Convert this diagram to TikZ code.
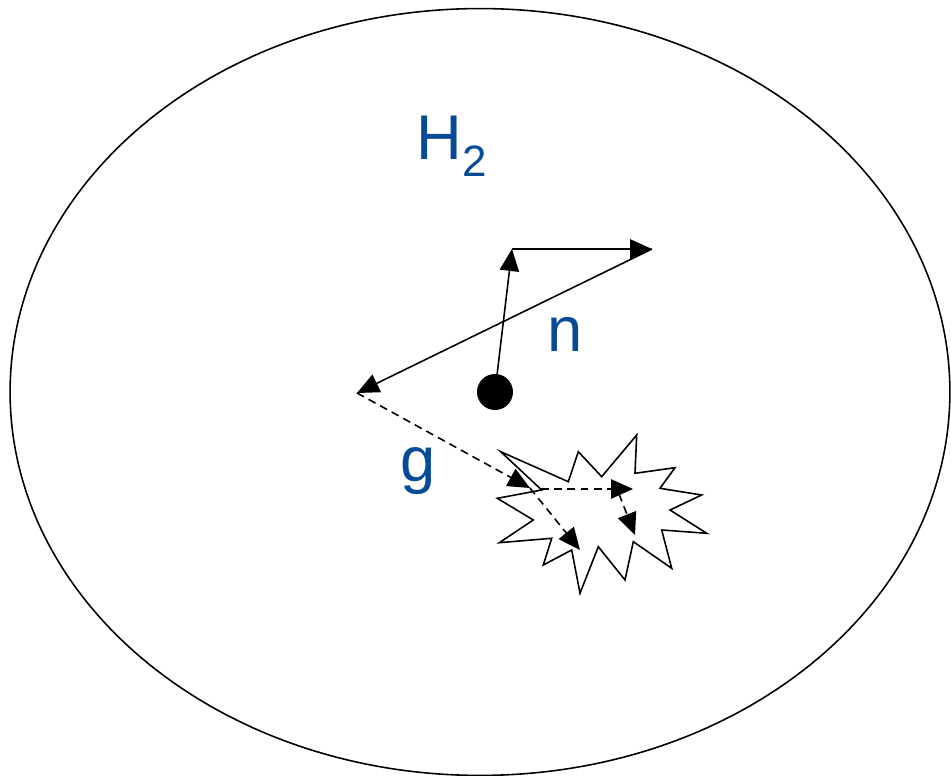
\documentclass[tikz,border=0pt]{standalone}
\usepackage{fontspec}
\setmainfont{Liberation Sans}
\usepackage{tikz}
\usetikzlibrary{arrows.meta}
\definecolor{lblBlue}{HTML}{074B96}
\tikzset{
  vec/.style={draw=black, line width=0.9pt, -{Triangle[length=12.5pt, width=11pt]}},
  hop/.style={vec, dash pattern=on 4.5pt off 3pt},
  lbl/.style={font=\fontsize{36}{40}\selectfont, text=lblBlue, anchor=base west, inner sep=0pt},
  atom/.style={circle, fill=black, inner sep=0pt, minimum size=0.72cm},
}
\def\rx{9.4cm}
\def\ry{7.67cm}

\begin{document}
\begin{tikzpicture}[x=0.02cm, y=-0.02cm]
\useasboundingbox (0,0) rectangle (951,776);

% ── gas volume ───────────────────────────────────────────────────────────────
\draw[line width=0.9pt] (480,392) ellipse [x radius=\rx, y radius=\ry];
\node[lbl] (h2) at (416.5,160) {H\raisebox{-9.5pt}{\fontsize{25}{25}\selectfont 2}};

% ── collision site ───────────────────────────────────────────────────────────
\draw[line width=0.9pt, line join=miter] (500.7,451.7) -- (568.3,481.7) -- (578.3,451.7)
  -- (601.7,476.7) -- (636.7,435) -- (635,473.3) -- (675,467.7) -- (660,488.3)
  -- (701.7,495) -- (670,510) -- (706.7,533.3) -- (661.7,530) -- (671.7,568.3)
  -- (633.3,541.7) -- (625,580) -- (598.3,546.7) -- (580,593.3) -- (571.7,550)
  -- (543.3,565) -- (551.7,538.3) -- (499.3,542.7) -- (533.3,520) -- (497.3,498.3)
  -- (541.7,490) -- cycle;

% ── neutron path ─────────────────────────────────────────────────────────────
\node[atom] (src) at (495,392) {};
\coordinate (k1) at (512,249);
\coordinate (k2) at (652,249);
\coordinate (k3) at (357,393);
\draw[vec] (src) -- (k1);
\draw[vec] (k1) -- (k2);
\draw[vec] (k2) -- (k3);
\node[lbl] (n) at (547.5,351.7) {n};

% ── gamma path ───────────────────────────────────────────────────────────────
\coordinate (k4) at (530,488);
\coordinate (k4h) at (541,489);
\coordinate (k5) at (633,489);
\coordinate (k5d) at (619,494);
\coordinate (k6) at (635,535);
\coordinate (k7) at (580,550);
\draw[hop] (k3) -- (k4);
\draw[hop] (k4h) -- (k5);
\draw[hop] (k5d) -- (k6);
\draw[hop] (k4) -- (k7);
\node[lbl] (g) at (400,481.5) {g};

\end{tikzpicture}
\end{document}
